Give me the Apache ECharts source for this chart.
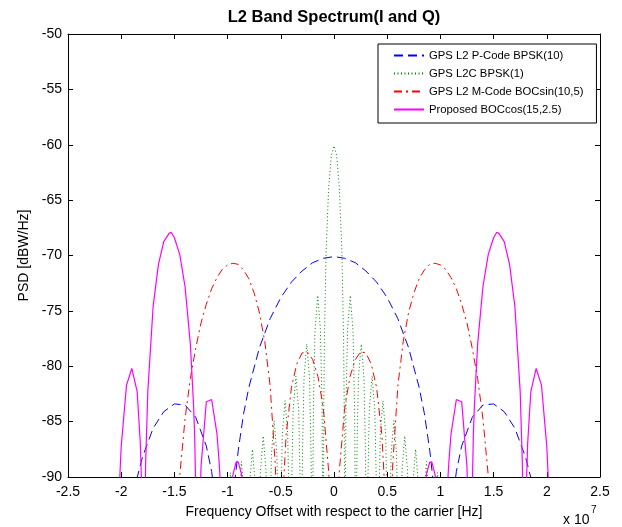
<!DOCTYPE html>
<html>
<head>
<meta charset="utf-8">
<script src="https://cdn.jsdelivr.net/npm/echarts@6/dist/echarts.min.js"></script>
<style>
  html, body { margin: 0; padding: 0; background: #fff; }
  #psd-chart { width: 622px; height: 527px; }
</style>
</head>
<body>
<div id="psd-chart"></div>
<script>
// x in units of 1e7 Hz, y in dBW/Hz (points below -90 are clipped by the axis)
const xTicks = { min: -2.5, max: 2.5, step: 0.5 };
const yTicks = { min: -90, max: -50, step: 5 };

const seriesNames = [
    'GPS L2 P-Code BPSK(10)',
    'GPS L2C BPSK(1)',
    'GPS L2 M-Code BOCsin(10,5)',
    'Proposed BOCcos(15,2.5)'
];

const bpsk10 = [
    [-2.1, -100], [-1.95, -96.4], [-1.9, -92.6], [-1.85, -90.05], [-1.8, -88.2], [-1.7, -85.6],
    [-1.6, -84.1], [-1.5, -83.4], [-1.4, -83.5], [-1.3, -84.6], [-1.2, -87.2], [-1.15, -89.5],
    [-1.1, -93.3], [-1.05, -101.9], [-0.97, -95.4], [-0.93, -90.2], [-0.9, -87.6], [-0.85, -84.3],
    [-0.8, -81.9], [-0.7, -78.3], [-0.6, -75.7], [-0.5, -73.8], [-0.4, -72.4], [-0.3, -71.4],
    [-0.2, -70.65], [-0.1, -70.25], [0, -70.1],
    [0.1, -70.25], [0.2, -70.65], [0.3, -71.4], [0.4, -72.4], [0.5, -73.8], [0.6, -75.7],
    [0.7, -78.3], [0.8, -81.9], [0.85, -84.3], [0.9, -87.6], [0.93, -90.2], [0.97, -95.4],
    [1.05, -101.9], [1.1, -93.3], [1.15, -89.5], [1.2, -87.2], [1.3, -84.6], [1.4, -83.5],
    [1.5, -83.4], [1.6, -84.1], [1.7, -85.6], [1.8, -88.2], [1.85, -90.05], [1.9, -92.6],
    [1.95, -96.4], [2.1, -100]
];

const bpsk1 = [
    [-1.023, -100], [-0.998, -92.7], [-0.972, -89.6], [-0.947, -92.6],
    [-0.9207, -100], [-0.895, -91.7], [-0.870, -88.6], [-0.845, -91.6],
    [-0.8184, -100], [-0.793, -90.6], [-0.767, -87.5], [-0.742, -90.5],
    [-0.7161, -100], [-0.691, -89.4], [-0.665, -86.3], [-0.640, -89.3],
    [-0.6138, -100], [-0.588, -88], [-0.563, -84.9], [-0.537, -87.9],
    [-0.5115, -100], [-0.486, -86.2], [-0.460, -83.1], [-0.435, -86.1],
    [-0.4092, -100], [-0.399, -91.2], [-0.384, -84], [-0.358, -80.9], [-0.332, -83.9], [-0.317, -91],
    [-0.3069, -100], [-0.297, -88.4], [-0.282, -81.1], [-0.256, -78], [-0.230, -81], [-0.215, -88.2],
    [-0.2046, -100], [-0.194, -84.1], [-0.179, -76.9], [-0.153, -73.6], [-0.128, -76.6], [-0.112, -83.8],
    [-0.1023, -100], [-0.095, -82.5], [-0.09, -77.6], [-0.075, -69.9], [-0.05, -63.8], [-0.025, -61],
    [0, -60.1],
    [0.025, -61], [0.05, -63.8], [0.075, -69.9], [0.09, -77.6], [0.095, -82.5], [0.1023, -100],
    [0.112, -83.8], [0.128, -76.6], [0.153, -73.6], [0.179, -76.9], [0.194, -84.1], [0.2046, -100],
    [0.215, -88.2], [0.230, -81], [0.256, -78], [0.282, -81.1], [0.297, -88.4], [0.3069, -100],
    [0.317, -91], [0.332, -83.9], [0.358, -80.9], [0.384, -84], [0.399, -91.2], [0.4092, -100],
    [0.435, -86.1], [0.460, -83.1], [0.486, -86.2], [0.5115, -100],
    [0.537, -87.9], [0.563, -84.9], [0.588, -88], [0.6138, -100],
    [0.640, -89.3], [0.665, -86.3], [0.691, -89.4], [0.7161, -100],
    [0.742, -90.5], [0.767, -87.5], [0.793, -90.6], [0.8184, -100],
    [0.845, -91.6], [0.870, -88.6], [0.895, -91.7], [0.9207, -100],
    [0.947, -92.6], [0.972, -89.6], [0.998, -92.7], [1.023, -100]
];

const bocSin = [
    [-1.5, -99], [-1.45, -89.9], [-1.4, -84.75], [-1.35, -81.1], [-1.3, -78.4], [-1.25, -76.1],
    [-1.2, -74.4], [-1.15, -73], [-1.1, -72], [-1.05, -71.25], [-1, -70.85], [-0.95, -70.7],
    [-0.9, -70.8], [-0.85, -71.3], [-0.8, -72.1], [-0.75, -73.4], [-0.7, -75.2], [-0.65, -77.8],
    [-0.6, -81.8], [-0.55, -89.2], [-0.52, -102], [-0.5, -100], [-0.48, -91.6], [-0.45, -86.2],
    [-0.4, -81.9], [-0.35, -79.8], [-0.3, -78.8], [-0.25, -78.7], [-0.2, -79.4], [-0.15, -80.95],
    [-0.1, -83.8], [-0.05, -89.5], [-0.03, -93.9], [0, -110],
    [0.03, -93.9], [0.05, -89.5], [0.1, -83.8], [0.15, -80.95], [0.2, -79.4], [0.25, -78.7],
    [0.3, -78.8], [0.35, -79.8], [0.4, -81.9], [0.45, -86.2], [0.48, -91.6], [0.5, -100],
    [0.52, -102], [0.55, -89.2], [0.6, -81.8], [0.65, -77.8], [0.7, -75.2], [0.75, -73.4],
    [0.8, -72.1], [0.85, -71.3], [0.9, -70.8], [0.95, -70.7], [1, -70.85], [1.05, -71.25],
    [1.1, -72], [1.15, -73], [1.2, -74.4], [1.25, -76.1], [1.3, -78.4], [1.35, -81.1],
    [1.4, -84.75], [1.45, -89.9], [1.5, -99]
];

const bocCos = [
    [-2.03, -95], [-2.01, -89.3], [-2, -87.25], [-1.95, -81.7], [-1.9, -80.2], [-1.85, -82.3],
    [-1.82, -87], [-1.81, -90.2], [-1.79, -100], [-1.78, -94.9], [-1.77, -88.7], [-1.75, -82.3],
    [-1.7, -74.6], [-1.65, -70.8], [-1.6, -68.75], [-1.55, -68], [-1.53, -67.9], [-1.5, -68.4],
    [-1.45, -69.9], [-1.4, -72.8], [-1.35, -78], [-1.32, -83.5], [-1.31, -86.1], [-1.29, -95.6],
    [-1.27, -98], [-1.26, -93], [-1.25, -89.1], [-1.2, -83.2], [-1.15, -83], [-1.1, -86.1],
    [-1.08, -88.6], [-1.07, -90.2], [-1.05, -95.2], [-0.98, -92.9], [-0.96, -90.5], [-0.95, -89.8],
    [-0.92, -88.65], [-0.9, -88.65], [-0.87, -89.7], [-0.85, -91], [-0.8, -100],
    [0.8, -100],
    [0.85, -91], [0.87, -89.7], [0.9, -88.65], [0.92, -88.65], [0.95, -89.8], [0.96, -90.5],
    [0.98, -92.9], [1.05, -95.2], [1.07, -90.2], [1.08, -88.6], [1.1, -86.1], [1.15, -83],
    [1.2, -83.2], [1.25, -89.1], [1.26, -93], [1.27, -98], [1.29, -95.6], [1.31, -86.1],
    [1.32, -83.5], [1.35, -78], [1.4, -72.8], [1.45, -69.9], [1.5, -68.4], [1.53, -67.9],
    [1.55, -68], [1.6, -68.75], [1.65, -70.8], [1.7, -74.6], [1.75, -82.3], [1.77, -88.7],
    [1.78, -94.9], [1.79, -100], [1.81, -90.2], [1.82, -87], [1.85, -82.3], [1.9, -80.2],
    [1.95, -81.7], [2, -87.25], [2.01, -89.3], [2.03, -95]
];

const psdChartFn = () => {
    let psdChart = echarts.init(document.getElementById('psd-chart'));
    const fontFamily = "'Liberation Sans', Arial, sans-serif";
    const axisCommon = {
        type: 'value',
        axisLine: { show: true, onZero: false, lineStyle: { color: '#000', width: 1 } },
        axisTick: { show: true, inside: true, length: 5, lineStyle: { color: '#000' } },
        splitLine: { show: false }
    };
    const lineSeries = (name, data, color, type, width) => ({
        name: name,
        type: 'line',
        data: data,
        symbol: 'none',
        showSymbol: false,
        smooth: false,
        clip: true,
        lineStyle: { color: color, type: type, width: width },
        itemStyle: { color: color }
    });
    const psdChartData = {
        animation: false,
        backgroundColor: '#fff',
        title: {
            text: 'L2 Band Spectrum(I and Q)',
            left: 334,
            textAlign: 'center',
            top: 9,
            padding: 0,
            textStyle: { fontFamily: fontFamily, fontSize: 16.5, fontWeight: 'bold', color: '#000' }
        },
        grid: { left: 68, right: 22, top: 34, bottom: 50 },
        legend: {
            orient: 'vertical',
            left: 378,
            top: 44,
            padding: [6, 13, 8, 15],
            itemWidth: 30,
            itemHeight: 10,
            itemGap: 7,
            backgroundColor: '#fff',
            borderColor: '#000',
            borderWidth: 1,
            borderRadius: 0,
            // hide the marker that ECharts puts on the legend line
            itemStyle: { opacity: 0 },
            textStyle: { fontFamily: fontFamily, fontSize: 11.3, color: '#000' },
            data: seriesNames
        },
        xAxis: [
            Object.assign({}, axisCommon, {
                position: 'bottom',
                min: xTicks.min, max: xTicks.max, interval: xTicks.step,
                name: 'Frequency Offset with respect to the carrier [Hz]',
                nameLocation: 'middle',
                nameGap: 28,
                nameTextStyle: { fontFamily: fontFamily, fontSize: 14, color: '#000' },
                axisLabel: { fontFamily: fontFamily, fontSize: 14, color: '#000', margin: 8 }
            }),
            Object.assign({}, axisCommon, {
                position: 'top',
                min: xTicks.min, max: xTicks.max, interval: xTicks.step,
                axisLabel: { show: false }
            })
        ],
        yAxis: [
            Object.assign({}, axisCommon, {
                position: 'left',
                min: yTicks.min, max: yTicks.max, interval: yTicks.step,
                name: 'PSD [dBW/Hz]',
                nameLocation: 'middle',
                nameGap: 30,
                nameTextStyle: { fontFamily: fontFamily, fontSize: 14, color: '#000' },
                axisLabel: { fontFamily: fontFamily, fontSize: 14, color: '#000', margin: 6 }
            }),
            Object.assign({}, axisCommon, {
                position: 'right',
                min: yTicks.min, max: yTicks.max, interval: yTicks.step,
                axisLabel: { show: false }
            })
        ],
        graphic: [
            {
                type: 'text', left: 563, top: 513,
                style: { text: 'x 10', font: "14px 'Liberation Sans', Arial, sans-serif", fill: '#000' }
            },
            {
                type: 'text', left: 591, top: 505,
                style: { text: '7', font: "10px 'Liberation Sans', Arial, sans-serif", fill: '#000' }
            }
        ],
        series: [
            lineSeries(seriesNames[0], bpsk10, '#0000ff', [9, 5], 1),
            lineSeries(seriesNames[1], bpsk1, '#008000', [1, 2.5], 1),
            lineSeries(seriesNames[2], bocSin, '#ff0000', [8, 4, 2, 4], 1),
            lineSeries(seriesNames[3], bocCos, '#ff00ff', 'solid', 1.2)
        ]
    };
    psdChart.setOption(psdChartData);
    return psdChart;
};

psdChartFn();
</script>
</body>
</html>
